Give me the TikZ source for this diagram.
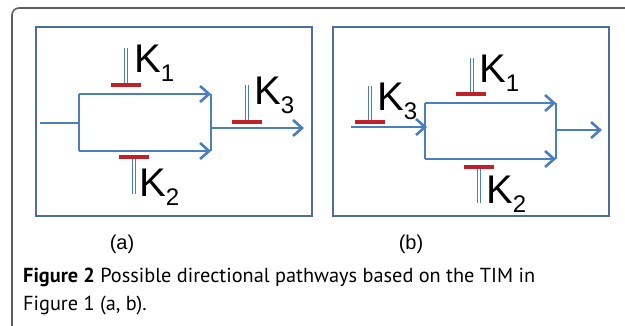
\documentclass[tikz,border=0pt]{standalone}
\usepackage{fontspec}
\setmainfont{Liberation Sans}
\newfontfamily\capfont{PT Sans}
\usetikzlibrary{arrows.meta}

\definecolor{pathblue}{RGB}{74,126,190}
\definecolor{boxblue}{RGB}{79,108,160}
\definecolor{inhred}{RGB}{192,32,40}
\definecolor{framegray}{RGB}{95,95,95}

\tikzset{
  flow/.style={draw=pathblue, line width=2.6pt},
  flowarrow/.style={flow, -{Straight Barb[length=9pt,width=16pt]}},
  inhstem/.style={draw=pathblue, line width=1pt, double=white, double distance=2pt},
  inhbar/.style={draw=inhred, line width=4.5pt},
  panel/.style={draw=boxblue, line width=1.8pt},
  klabel/.style={anchor=base west, inner sep=0pt, font=\fontsize{40}{40}\selectfont},
  sublabel/.style={anchor=base, inner sep=0pt, font=\fontsize{20}{20}\selectfont},
  capline/.style={anchor=base west, inner sep=0pt, font=\capfont\fontsize{20.3}{26}\selectfont},
}
\newcommand{\kname}[1]{K\raisebox{-9pt}{\fontsize{24}{24}\selectfont #1}}

\begin{document}
\begin{tikzpicture}[x=1pt, y=-1pt]
\useasboundingbox (0,0) rectangle (625,325);
\clip (0,0) rectangle (625,325);

% outer frame (only top and left edges fall inside the page)
\draw[framegray, line width=1.6pt, rounded corners=7pt] (12,345) -- (12,8) -- (645,8);

% ---------- panel (a) ----------
\draw[panel] (36,27) rectangle (312,216);
\coordinate (a-in)    at (40,123);
\coordinate (a-split) at (79,123);
\coordinate (a-tl)    at (79,94);
\coordinate (a-bl)    at (79,151);
\coordinate (a-tr)    at (211,94);
\coordinate (a-br)    at (211,151);
\coordinate (a-join)  at (211,128);
\coordinate (a-out)   at (304,128);
\draw[flow] (a-in) -- (a-split);
\draw[flow] (a-tl) -- (a-bl);
\draw[flow] (a-tr) -- (a-br);
\draw[flowarrow] (a-tl) -- (a-tr);
\draw[flowarrow] (a-bl) -- (a-br);
\draw[flowarrow] (a-join) -- (a-out);

% inhibitors in (a)
\coordinate (a-k1s) at (126,48);  \coordinate (a-k1b) at (126,85);
\coordinate (a-k1l) at (111,85);  \coordinate (a-k1r) at (141,85);
\draw[inhstem] (a-k1s) -- (a-k1b);
\draw[inhbar] (a-k1l) -- (a-k1r);
\node[klabel] (a-k1) at (134,72) {\kname{1}};

\coordinate (a-k2s) at (134,194); \coordinate (a-k2b) at (134,157);
\coordinate (a-k2l) at (119,157); \coordinate (a-k2r) at (149,157);
\draw[inhstem] (a-k2s) -- (a-k2b);
\draw[inhbar] (a-k2l) -- (a-k2r);
\node[klabel] (a-k2) at (139,196) {\kname{2}};

\coordinate (a-k3s) at (247,85);  \coordinate (a-k3b) at (247,122);
\coordinate (a-k3l) at (232,122); \coordinate (a-k3r) at (262,122);
\draw[inhstem] (a-k3s) -- (a-k3b);
\draw[inhbar] (a-k3l) -- (a-k3r);
\node[klabel] (a-k3) at (254,104) {\kname{3}};

\node[sublabel] (a-lab) at (122,249) {(a)};

% ---------- panel (b) ----------
\draw[panel] (333,27) rectangle (609,216);
\coordinate (b-in)   at (351,127);
\coordinate (b-tl)   at (425,103);
\coordinate (b-bl)   at (425,159);
\coordinate (b-mid)  at (427,127);
\coordinate (b-tr)   at (556,103);
\coordinate (b-br)   at (556,159);
\coordinate (b-join) at (556,130);
\coordinate (b-out)  at (602,130);
\draw[flow] (b-tl) -- (b-bl);
\draw[flow] (b-tr) -- (b-br);
\draw[flowarrow] (b-in) -- (b-mid);
\draw[flowarrow] (b-tl) -- (b-tr);
\draw[flowarrow] (b-bl) -- (b-br);
\draw[flowarrow] (b-join) -- (b-out);

% inhibitors in (b)
\coordinate (b-k3s) at (370,86);  \coordinate (b-k3b) at (370,122);
\coordinate (b-k3l) at (355,122); \coordinate (b-k3r) at (385,122);
\draw[inhstem] (b-k3s) -- (b-k3b);
\draw[inhbar] (b-k3l) -- (b-k3r);
\node[klabel] (b-k3) at (377,110) {\kname{3}};

\coordinate (b-k1s) at (472,58);  \coordinate (b-k1b) at (472,94);
\coordinate (b-k1l) at (456,94);  \coordinate (b-k1r) at (486,94);
\draw[inhstem] (b-k1s) -- (b-k1b);
\draw[inhbar] (b-k1l) -- (b-k1r);
\node[klabel] (b-k1) at (479,82) {\kname{1}};

\coordinate (b-k2s) at (479,203); \coordinate (b-k2b) at (479,167);
\coordinate (b-k2l) at (464,167); \coordinate (b-k2r) at (494,167);
\draw[inhstem] (b-k2s) -- (b-k2b);
\draw[inhbar] (b-k2l) -- (b-k2r);
\node[klabel] (b-k2) at (486,203) {\kname{2}};

\node[sublabel] (b-lab) at (411,249) {(b)};

% ---------- caption ----------
\node[capline] (cap1) at (23,282) {\textbf{Figure 2} Possible directional pathways based on the TIM in};
\node[capline] (cap2) at (23,310) {Figure 1 (a, b).};
\end{tikzpicture}
\end{document}
